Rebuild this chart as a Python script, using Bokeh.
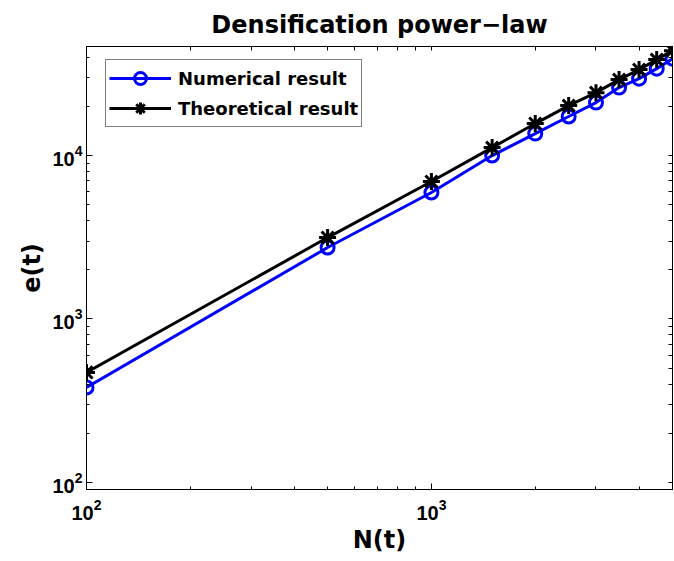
from bokeh.plotting import figure
from bokeh.models import LogAxis, Legend, LegendItem, Range1d, FixedTicker, LogTickFormatter
from bokeh.embed import file_html
from bokeh.resources import INLINE

# Data
n_t = [100, 500, 1000, 1500, 2000, 2500, 3000, 3500, 4000, 4500, 5000]
numerical = [381, 2737, 5940, 10000, 13630, 17340, 21090, 26060, 29560, 34040, 39160]
theoretical = [471, 3150, 6935, 11190, 15700, 20220, 24270, 29170, 33570, 38660, 43850]

major_ticks = [100, 1000, 10000]
minor_ticks = [200, 300, 400, 500, 600, 700, 800, 900,
               2000, 3000, 4000, 5000, 6000, 7000, 8000, 9000,
               20000, 30000, 40000, 50000, 60000, 70000, 80000, 90000]

title_text = "Densification power\u2212law"
x_label = "N(t)"
y_label = "e(t)"
label_num = "Numerical result"
label_theo = "Theoretical result"

FONT = "Liberation Sans"
WIDE = "DejaVu Sans"

p = figure(width=674, height=561, x_axis_type="log", y_axis_type="log",
           x_range=Range1d(100, 5000), y_range=Range1d(90.5, 46500),
           output_backend="svg", toolbar_location=None,
           min_border_left=86, min_border_right=2, min_border_top=46, min_border_bottom=72)

p.background_fill_color = "white"
p.border_fill_color = "white"
p.outline_line_color = "black"
p.outline_line_width = 1
p.xgrid.visible = False
p.ygrid.visible = False

p.title.text = title_text
p.title.align = "center"
p.title.text_font = WIDE
p.title.text_font_style = "bold"
p.title.text_font_size = "24px"
p.title.text_color = "black"
p.title.standoff = 15


def style_axis(ax):
    ax.major_tick_in = 6
    ax.major_tick_out = 0
    ax.minor_tick_in = 3
    ax.minor_tick_out = 0
    ax.axis_line_color = "black"
    ax.major_tick_line_color = "black"
    ax.minor_tick_line_color = "black"
    ax.major_label_text_font = FONT
    ax.major_label_text_font_style = "bold"
    ax.major_label_text_color = "black"
    ax.major_label_text_font_size = "20px"
    ax.major_label_standoff = 4


for ax in p.xaxis + p.yaxis:
    style_axis(ax)
    ax.ticker = FixedTicker(ticks=major_ticks, minor_ticks=minor_ticks)
    ax.formatter = LogTickFormatter()
p.xaxis.major_label_standoff = 9

p.xaxis.axis_label = x_label
p.yaxis.axis_label = y_label
for ax in p.xaxis + p.yaxis:
    ax.axis_label_text_font = WIDE
    ax.axis_label_text_font_style = "bold"
    ax.axis_label_text_font_size = "24px"
    ax.axis_label_text_color = "black"
    ax.axis_label_standoff = 3

# box ticks on the top and right sides (no labels)
for side in ("above", "right"):
    ax = LogAxis(ticker=FixedTicker(ticks=[], minor_ticks=major_ticks + minor_ticks))
    ax.major_tick_in = 0
    ax.major_tick_out = 0
    ax.minor_tick_in = 4
    ax.minor_tick_out = 0
    ax.axis_line_color = "black"
    ax.minor_tick_line_color = "black"
    ax.major_label_standoff = 0
    p.add_layout(ax, side)

l1 = p.line(n_t, numerical, line_color="blue", line_width=3)
s1 = p.scatter(n_t, numerical, marker="circle", size=13, line_color="blue",
               line_width=3, fill_color=None)
l2 = p.line(n_t, theoretical, line_color="black", line_width=3)
s2 = p.scatter(n_t, theoretical, marker="asterisk", size=17, line_color="black",
               line_width=3)

legend = Legend(items=[LegendItem(label=label_num, renderers=[l1, s1]),
                       LegendItem(label=label_theo, renderers=[l2, s2])],
                location=(19, 362))
legend.border_line_color = "black"
legend.border_line_width = 1
legend.background_fill_color = "white"
legend.background_fill_alpha = 1
legend.label_text_font = WIDE
legend.label_text_font_style = "bold"
legend.label_text_font_size = "18px"
legend.label_text_color = "black"
legend.glyph_width = 62
legend.glyph_height = 30
legend.spacing = -1
legend.padding = 3
legend.margin = 0
legend.label_standoff = 7
p.add_layout(legend)

open("out.html", "w").write(file_html(p, INLINE))
